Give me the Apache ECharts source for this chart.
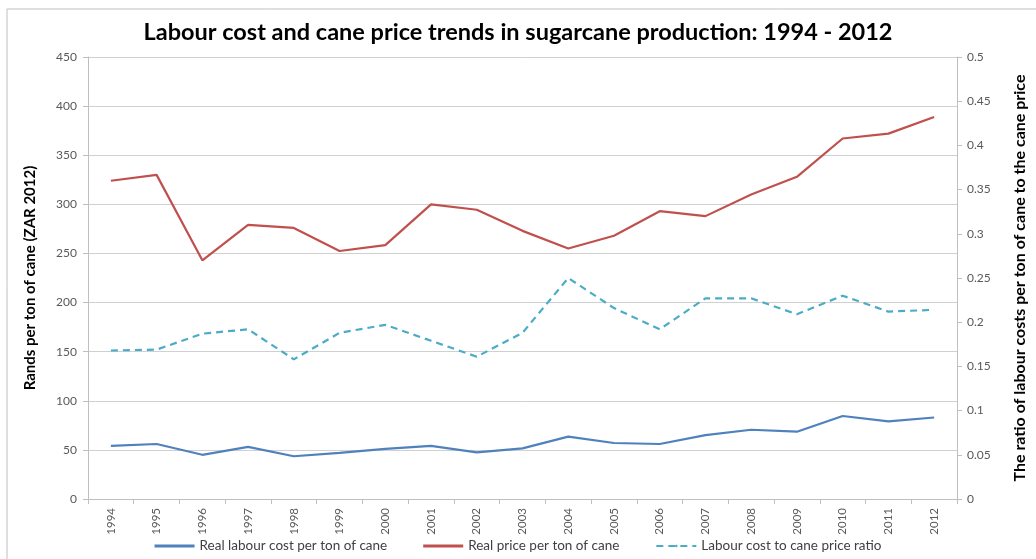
<!DOCTYPE html>
<html>
<head>
<meta charset="utf-8">
<script src="https://cdn.jsdelivr.net/npm/echarts@6/dist/echarts.min.js"></script>
<style>
  html, body { margin: 0; padding: 0; background: #fff; }
  #main { width: 1036px; height: 559px; }
</style>
</head>
<body>
<div id="main"></div>
<script>
// years on x axis
var years = ['1994', '1995', '1996', '1997', '1998', '1999', '2000', '2001', '2002', '2003',
  '2004', '2005', '2006', '2007', '2008', '2009', '2010', '2011', '2012'];

// Rands per ton (left axis)
var labourCost = [54, 56, 45, 53, 43.5, 47, 51, 54, 47.5, 51.5, 63.5, 57, 56, 65, 70.5, 68.5, 84.5, 79, 83];
var canePrice = [324, 330, 243, 279, 276, 252.5, 258.5, 300, 294.5, 273, 255, 268, 293, 288, 310, 328, 367, 372, 389];

// ratio (right axis)
var costRatio = [0.168, 0.169, 0.187, 0.192, 0.158, 0.188, 0.197, 0.179, 0.161, 0.188,
  0.250, 0.216, 0.192, 0.227, 0.227, 0.209, 0.230, 0.212, 0.214];

var font = 'Lato, "Open Sans", sans-serif';
var myChart = echarts.init(document.getElementById('main'));

var option = {
  backgroundColor: '#fff',
  animation: false,
  textStyle: { fontFamily: font },
  // chart frame like the original picture
  graphic: [{
    type: 'rect',
    shape: { x: 7, y: 9, width: 1040, height: 560 },
    style: { fill: 'none', stroke: '#bfbfbf', lineWidth: 1 },
    silent: true
  }],
  title: {
    text: 'Labour cost and cane price trends in sugarcane production: 1994 - 2012',
    left: 'center',
    top: 15,
    textStyle: { fontFamily: font, fontSize: 23.5, fontWeight: 'bold', color: '#000' }
  },
  grid: { left: 88, right: 71, top: 57, bottom: 60 },
  legend: {
    bottom: 1,
    left: 'center',
    itemWidth: 40,
    itemHeight: 3,
    itemGap: 36,
    textStyle: { fontFamily: font, fontSize: 13.5, color: '#404040' },
    data: [
      { name: 'Real labour cost per ton of cane', icon: 'rect' },
      { name: 'Real price per ton of cane', icon: 'rect' },
      { name: 'Labour cost to cane price ratio' }
    ]
  },
  xAxis: {
    type: 'category',
    data: years,
    axisLine: { lineStyle: { color: '#bfbfbf' } },
    axisTick: { show: true, lineStyle: { color: '#bfbfbf' } },
    axisLabel: { rotate: 90, color: '#595959', fontSize: 11.5, margin: 9 }
  },
  yAxis: [
    {
      type: 'value',
      min: 0,
      max: 450,
      interval: 50,
      name: 'Rands per ton of cane (ZAR 2012)',
      nameLocation: 'middle',
      nameGap: 50,
      nameTextStyle: { fontFamily: font, fontSize: 15, fontWeight: 'bold', color: '#000' },
      axisLine: { show: true, lineStyle: { color: '#bfbfbf' } },
      axisTick: { show: true, lineStyle: { color: '#bfbfbf' } },
      axisLabel: { color: '#595959', fontSize: 12, margin: 11 },
      splitLine: { lineStyle: { color: '#d0d0d0', width: 1 } }
    },
    {
      type: 'value',
      min: 0,
      max: 0.5,
      interval: 0.05,
      name: 'The ratio of labour costs per ton of cane to the cane price',
      nameLocation: 'middle',
      nameGap: 55,
      nameRotate: 90,
      nameTextStyle: { fontFamily: font, fontSize: 16, fontWeight: 'bold', color: '#000' },
      axisLine: { show: true, lineStyle: { color: '#bfbfbf' } },
      axisTick: { show: true, lineStyle: { color: '#bfbfbf' } },
      axisLabel: { color: '#595959', fontSize: 12, margin: 10 },
      splitLine: { show: false }
    }
  ],
  series: [
    {
      name: 'Real labour cost per ton of cane',
      type: 'line',
      data: labourCost,
      symbol: 'none',
      color: '#4f81bd',
      lineStyle: { width: 2.2, color: '#4f81bd' }
    },
    {
      name: 'Real price per ton of cane',
      type: 'line',
      data: canePrice,
      symbol: 'none',
      color: '#c0504d',
      lineStyle: { width: 2.2, color: '#c0504d' }
    },
    {
      name: 'Labour cost to cane price ratio',
      type: 'line',
      yAxisIndex: 1,
      data: costRatio,
      symbol: 'none',
      color: '#4bacc6',
      lineStyle: { width: 2.2, color: '#4bacc6', type: [7, 5] }
    }
  ]
};

myChart.setOption(option);
window.addEventListener('resize', function () { myChart.resize(); });
</script>
</body>
</html>
